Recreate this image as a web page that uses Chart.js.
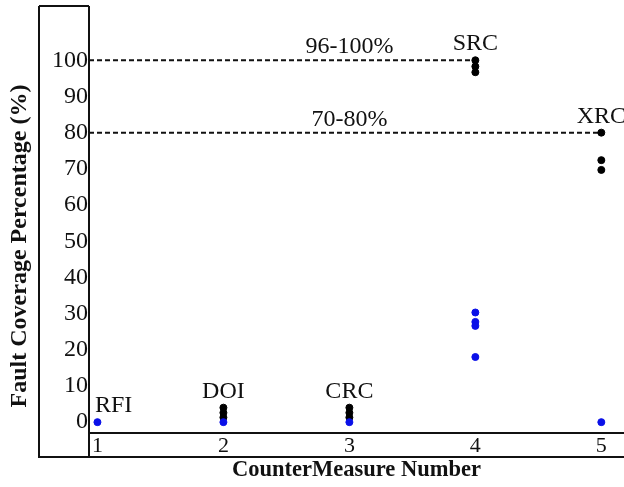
<!DOCTYPE html>
<html>
<head>
<meta charset="utf-8">
<script src="https://cdn.jsdelivr.net/npm/chart.js@4.4.1/dist/chart.umd.min.js"></script>
<style>
  body { margin: 0; background: #fff; }
  #wrap { width: 624px; height: 487px; }
</style>
</head>
<body>
<div id="wrap"><canvas id="faultChart"></canvas></div>
<script>
// countermeasures
const measures = [1, 2, 3, 4, 5];
const measureNames = ["RFI", "DOI", "CRC", "SRC", "XRC"];

// black points
const blackX = [2, 2, 2, 3, 3, 3, 4, 4, 4, 5, 5, 5];
const blackY = [4, 2.6, 1.3, 4, 2.6, 1.3, 100, 98.3, 96.7, 80, 72.4, 69.7];

// blue points
const blueX = [1, 2, 3, 4, 4, 4, 4, 5];
const blueY = [0, 0, 0, 30.3, 27.7, 26.6, 18, 0];

// dashed ranges
const rangeLabels = ["96-100%", "70-80%"];
const rangeLevels = [100, 80];
const rangeEnds = [4, 5];
const rangeLabelAt = [3, 3];

const yTicks = [0, 10, 20, 30, 40, 50, 60, 70, 80, 90, 100];

const SERIF = '"Liberation Serif", "Times New Roman", serif';
const X_MIN = 0.933;
const X_MAX = 5.18;

const toPoints = (xs, ys) => xs.map((x, i) => ({ x: x, y: ys[i] }));

const rangeSets = rangeLabels.map((lbl, i) => ({
  type: "line",
  label: lbl,
  data: [{ x: X_MIN, y: rangeLevels[i] }, { x: rangeEnds[i], y: rangeLevels[i] }],
  borderColor: "#111",
  borderWidth: 2,
  borderDash: [5, 3],
  pointRadius: 0,
  fill: false,
  order: 2
}));

// frame + text labels
const decorPlugin = {
  id: "decor",
  afterDraw(chart) {
    const ctx = chart.ctx;
    const area = chart.chartArea;
    const xs = chart.scales.x;
    const ys = chart.scales.y;
    const boxLeft = 39;
    const boxBottom = area.bottom + 24;

    ctx.save();
    ctx.strokeStyle = "#111";
    ctx.lineWidth = 2;
    ctx.beginPath();
    ctx.moveTo(boxLeft, area.top);
    ctx.lineTo(area.left, area.top);
    ctx.moveTo(boxLeft, area.top);
    ctx.lineTo(boxLeft, boxBottom);
    ctx.lineTo(area.right, boxBottom);
    ctx.moveTo(area.left, area.top);
    ctx.lineTo(area.left, boxBottom);
    ctx.moveTo(area.left, area.bottom);
    ctx.lineTo(area.right, area.bottom);
    ctx.stroke();

    // names above columns
    ctx.fillStyle = "#111";
    ctx.font = "24px " + SERIF;
    ctx.textBaseline = "alphabetic";
    measures.forEach((m, i) => {
      const vals = [];
      blackX.forEach((x, j) => { if (x === m) vals.push(blackY[j]); });
      blueX.forEach((x, j) => { if (x === m) vals.push(blueY[j]); });
      const top = Math.max(...vals);
      const w = ctx.measureText(measureNames[i]).width;
      let px = xs.getPixelForValue(m) - w / 2;
      px = Math.max(px, area.left + 6);
      ctx.textAlign = "left";
      ctx.fillText(measureNames[i], px, ys.getPixelForValue(top) - 10);
    });

    // range labels
    ctx.font = "24px " + SERIF;
    ctx.textAlign = "center";
    rangeLabels.forEach((lbl, i) => {
      ctx.fillText(lbl, xs.getPixelForValue(rangeLabelAt[i]), ys.getPixelForValue(rangeLevels[i]) - 7);
    });

    // y title
    ctx.font = "bold 24px " + SERIF;
    ctx.translate(20, 246);
    ctx.rotate(-Math.PI / 2);
    ctx.textAlign = "center";
    ctx.textBaseline = "middle";
    ctx.fillText("Fault Coverage Percentage (%)", 0, 0);
    ctx.restore();
  }
};

new Chart("faultChart", {
  type: "scatter",
  data: {
    datasets: [
      {
        label: "Black",
        data: toPoints(blackX, blackY),
        backgroundColor: "#000",
        borderColor: "#000",
        pointRadius: 3.5,
        order: 1
      },
      {
        label: "Blue",
        data: toPoints(blueX, blueY),
        backgroundColor: "#0a10e8",
        borderColor: "#0a10e8",
        pointRadius: 3.5,
        order: 0
      },
      ...rangeSets
    ]
  },
  options: {
    responsive: true,
    maintainAspectRatio: false,
    animation: false,
    layout: { autoPadding: false, padding: { top: 6, left: 0, right: 0, bottom: 0 } },
    plugins: { legend: { display: false }, tooltip: { enabled: false } },
    scales: {
      x: {
        type: "linear",
        min: X_MIN,
        max: X_MAX,
        afterBuildTicks: s => { s.ticks = measures.map(v => ({ value: v })); },
        afterFit: s => { s.height = 54; s.paddingLeft = 0; s.paddingRight = 0; },
        grid: { display: false, drawTicks: false },
        border: { display: false },
        ticks: { color: "#111", font: { family: SERIF, size: 22 }, padding: 0, maxRotation: 0 },
        title: {
          display: true,
          text: "CounterMeasure Number",
          color: "#111",
          font: { family: SERIF, size: 22.5, weight: "bold" },
          padding: { top: 0, bottom: 3 }
        }
      },
      y: {
        min: -3,
        max: 115,
        afterBuildTicks: s => { s.ticks = yTicks.map(v => ({ value: v })); },
        afterFit: s => { s.width = 89; s.paddingTop = 0; s.paddingBottom = 0; },
        grid: { display: false, drawTicks: false },
        border: { display: false },
        ticks: { color: "#111", font: { family: SERIF, size: 24 }, padding: 1 }
      }
    }
  },
  plugins: [decorPlugin]
});
</script>
</body>
</html>
